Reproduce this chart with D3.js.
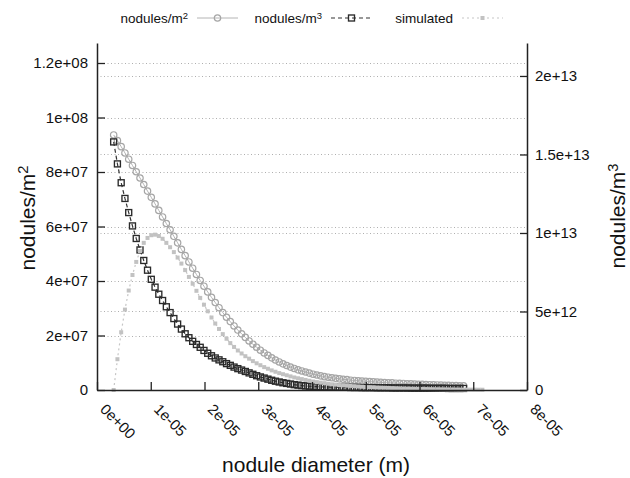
<!DOCTYPE html>
<html>
<head>
<meta charset="utf-8">
<script src="https://cdn.jsdelivr.net/npm/d3@7"></script>
<style>
    body { margin: 0; background: #fff; }
    svg { font-family: "Liberation Sans", Arial, Helvetica, sans-serif; }
</style>
</head>
<body>
<svg id="chart" width="630" height="478"></svg>
<script>
// ---- data ----
// nodule diameter, micrometres
const diameter_um= [
    3.1, 3.8, 4.5, 5.2, 5.9, 6.6, 7.3, 8.0, 8.7, 9.4,
    10.1, 10.8, 11.5, 12.2, 12.9, 13.6, 14.3, 15.0, 15.7, 16.4,
    17.1, 17.8, 18.5, 19.2, 19.9, 20.6, 21.3, 22.0, 22.7, 23.4,
    24.1, 24.8, 25.5, 26.2, 26.9, 27.6, 28.3, 29.0, 29.7, 30.4,
    31.1, 31.8, 32.5, 33.2, 33.9, 34.6, 35.3, 36.0, 36.7, 37.4,
    38.1, 38.8, 39.5, 40.2, 40.9, 41.6, 42.3, 43.0, 43.7, 44.4,
    45.1, 45.8, 46.5, 47.2, 47.9, 48.6, 49.3, 50.0, 50.7, 51.4,
    52.1, 52.8, 53.5, 54.2, 54.9, 55.6, 56.3, 57.0, 57.7, 58.4,
    59.1, 59.8, 60.5, 61.2, 61.9, 62.6, 63.3, 64.0, 64.7, 65.4,
    66.1, 66.8, 67.5, 68.2, 68.9, 69.6, 70.3, 71.0, 71.7
]

// nodules/m^2, units of 1e7 (left axis)
const per_area_e7= [
    9.36, 9.15, 8.93, 8.70, 8.47, 8.24, 8.01, 7.78, 7.54, 7.30,
    7.07, 6.83, 6.59, 6.35, 6.11, 5.88, 5.64, 5.40, 5.16, 4.93,
    4.70, 4.47, 4.24, 4.02, 3.81, 3.60, 3.40, 3.21, 3.02, 2.84,
    2.67, 2.51, 2.35, 2.20, 2.06, 1.93, 1.80, 1.68, 1.57, 1.46,
    1.36, 1.27, 1.18, 1.10, 1.03, 0.96, 0.90, 0.84, 0.79, 0.74,
    0.70, 0.66, 0.62, 0.58, 0.55, 0.52, 0.49, 0.47, 0.45, 0.43,
    0.41, 0.39, 0.38, 0.36, 0.35, 0.34, 0.33, 0.32, 0.31, 0.30,
    0.29, 0.28, 0.27, 0.265, 0.26, 0.25, 0.245, 0.24, 0.23, 0.225,
    0.22, 0.21, 0.205, 0.20, 0.195, 0.19, 0.185, 0.18, 0.175, 0.17,
    0.165, 0.16, 0.155, 0.15
]

// nodules/m^3, units of 1e12 (right axis)
const per_volume_e12= [
    15.8, 14.4, 13.2, 12.2, 11.3, 10.45, 9.65, 8.92, 8.25, 7.63,
    7.05, 6.55, 6.10, 5.70, 5.30, 4.93, 4.55, 4.20, 3.88, 3.58,
    3.33, 3.10, 2.90, 2.72, 2.52, 2.34, 2.18, 2.04, 1.92, 1.80,
    1.68, 1.57, 1.46, 1.36, 1.27, 1.18, 1.09, 1.00, 0.91, 0.83,
    0.76, 0.69, 0.62, 0.56, 0.51, 0.46, 0.42, 0.38, 0.34, 0.31,
    0.28, 0.26, 0.24, 0.22, 0.21, 0.20, 0.19, 0.19, 0.18, 0.18,
    0.17, 0.17, 0.17, 0.16, 0.16, 0.16, 0.15, 0.15, 0.15, 0.15,
    0.14, 0.14, 0.14, 0.14, 0.13, 0.13, 0.13, 0.13, 0.13, 0.12,
    0.12, 0.12, 0.12, 0.12, 0.11, 0.11, 0.11, 0.11, 0.11, 0.10,
    0.10, 0.10, 0.10, 0.10
]

// simulated, units of 1e7 (left axis)
const simulated_e7= [
    0, 1.13, 2.12, 2.95, 3.65, 4.22, 4.70, 5.10, 5.40, 5.58,
    5.68, 5.70, 5.65, 5.55, 5.40, 5.24, 5.06, 4.86, 4.64, 4.40,
    4.15, 3.90, 3.64, 3.38, 3.13, 2.89, 2.66, 2.44, 2.24, 2.05,
    1.88, 1.72, 1.58, 1.45, 1.34, 1.24, 1.15, 1.06, 0.98, 0.91,
    0.84, 0.78, 0.72, 0.67, 0.62, 0.58, 0.54, 0.50, 0.46, 0.43,
    0.40, 0.37, 0.34, 0.31, 0.29, 0.27, 0.25, 0.23, 0.21, 0.20,
    0.18, 0.17, 0.16, 0.15, 0.14, 0.13, 0.12, 0.11, 0.105, 0.10,
    0.09, 0.085, 0.08, 0.075, 0.07, 0.065, 0.06, 0.055, 0.05, 0.047,
    0.044, 0.041, 0.038, 0.035, 0.032, 0.03, 0.028, 0.026, 0.024, 0.022,
    0.02, 0.018, 0.016, 0.015, 0.014, 0.013, 0.012, 0.011, 0.01
]

// ticks
const x_ticks= [0, 1e-5, 2e-5, 3e-5, 4e-5, 5e-5, 6e-5, 7e-5, 8e-5]
const y_ticks= [0, 2e7, 4e7, 6e7, 8e7, 1e8, 1.2e8]
const y2_ticks= [0, 5e12, 1e13, 1.5e13, 2e13]

// ---- layout ----
const plot= {left: 97, right: 527, top: 43, bottom: 390}

const x= d3.scaleLinear().domain([0, 8e-5]).range([plot.left, plot.right])
const y= d3.scaleLinear().domain([0, 1.2734e8]).range([plot.bottom, plot.top])
const y2= d3.scaleLinear().domain([0, 2.21e13]).range([plot.bottom, plot.top])

// gnuplot-like number formats
function pad_exp(s) {
    let [m, e]= s.split("e")
    let sign= e[0] === "-" ? "-" : "+"
    e= e.replace(/^[+-]/, "")
    if(e.length < 2) e= "0" + e
    return `${m}e${sign}${e}`
}
const fmt_g= v => v === 0 ? "0" : pad_exp((+v.toPrecision(6)).toExponential())
const fmt_x= v => pad_exp(v.toExponential(0))

const svg= d3.select("#chart")

// ---- grid ----
const grid= svg.append("g")
    .attr("stroke", "#9a9a9a")
    .attr("stroke-width", 0.8)
    .attr("stroke-dasharray", "1,2.5")
grid.selectAll("line.gl").data(y_ticks.filter(v => v > 0)).join("line")
    .attr("x1", plot.left).attr("x2", plot.right)
    .attr("y1", d => Math.round(y(d)) + 0.5).attr("y2", d => Math.round(y(d)) + 0.5)
grid.selectAll("line.gr").data(y2_ticks.filter(v => v > 0)).join("line")
    .attr("class", "gr")
    .attr("x1", plot.left).attr("x2", plot.right)
    .attr("y1", d => Math.round(y2(d)) + 0.5).attr("y2", d => Math.round(y2(d)) + 0.5)

// ---- series ----
const as_points= (vals, unit) => vals.map((v, i) => ({d: diameter_um[i] * 1e-6, v: v * unit}))

const series= [
    {label: "nodules/m", sup: "2", scale: y, pts: as_points(per_area_e7, 1e7),
     line: {stroke: "#b4b4b4", width: 1, dash: null}, marker: "circle"},
    {label: "nodules/m", sup: "3", scale: y2, pts: as_points(per_volume_e12, 1e12),
     line: {stroke: "#333", width: 1.2, dash: "4,3"}, marker: "square"},
    {label: "simulated", sup: null, scale: y, pts: as_points(simulated_e7, 1e7),
     line: {stroke: "#c6c6c6", width: 1.2, dash: "2,3"}, marker: "dot"},
]

function draw_marker(sel, type) {
    if(type === "circle") {
        sel.append("circle").attr("r", 3.2)
            .attr("fill", "none").attr("stroke", "#a6a6a6").attr("stroke-width", 1.2)
    }
    if(type === "square") {
        sel.append("rect").attr("x", -3).attr("y", -3).attr("width", 6).attr("height", 6)
            .attr("fill", "none").attr("stroke", "#2a2a2a").attr("stroke-width", 1.35)
    }
    if(type === "dot") {
        sel.append("rect").attr("x", -2).attr("y", -2).attr("width", 4).attr("height", 4)
            .attr("fill", "#c2c2c2")
    }
}

series.forEach(s => {
    let g= svg.append("g")
    let line= d3.line().x(p => x(p.d)).y(p => s.scale(p.v))
    g.append("path")
        .attr("d", line(s.pts))
        .attr("fill", "none")
        .attr("stroke", s.line.stroke)
        .attr("stroke-width", s.line.width)
        .attr("stroke-dasharray", s.line.dash)
    g.selectAll("g.pt").data(s.pts).join("g")
        .attr("transform", p => `translate(${x(p.d)},${s.scale(p.v)})`)
        .each(function() { draw_marker(d3.select(this), s.marker) })
})

// ---- axes ----
function style_axis(g) {
    g.select(".domain").attr("stroke", "#222").attr("stroke-width", 1.5)
    g.selectAll(".tick line").attr("stroke", "#222").attr("stroke-width", 1.3)
    g.selectAll(".tick text").attr("fill", "#111").attr("font-size", 15)
    g.attr("font-family", null)
}

svg.append("g")
    .attr("transform", `translate(${plot.left},0)`)
    .call(d3.axisLeft(y).tickValues(y_ticks).tickFormat(fmt_g).tickSize(-8).tickSizeOuter(0).tickPadding(9))
    .call(style_axis)

svg.append("g")
    .attr("transform", `translate(${plot.right},0)`)
    .call(d3.axisRight(y2).tickValues(y2_ticks).tickFormat(fmt_g).tickSize(-7).tickSizeOuter(0).tickPadding(8))
    .call(style_axis)

const xg= svg.append("g")
    .attr("transform", `translate(0,${plot.bottom})`)
    .call(d3.axisBottom(x).tickValues(x_ticks).tickFormat(fmt_x).tickSize(-8).tickSizeOuter(0))
    .call(style_axis)
xg.selectAll(".tick text")
    .attr("x", 0).attr("y", 0).attr("dy", "0.3em")
    .attr("text-anchor", "start")
    .attr("transform", "translate(5,17) rotate(45)")

// ---- axis titles ----
function title_text(sel, label, sup) {
    sel.append("tspan").text(label)
    if(sup) sel.append("tspan").attr("dy", "-0.45em").attr("font-size", "70%").text(sup)
}

svg.append("text")
    .attr("transform", "translate(35,218) rotate(-90)")
    .attr("text-anchor", "middle").attr("font-size", 21).attr("fill", "#111")
    .call(title_text, "nodules/m", "2")

svg.append("text")
    .attr("transform", "translate(625,216) rotate(-90)")
    .attr("text-anchor", "middle").attr("font-size", 21).attr("fill", "#111")
    .call(title_text, "nodules/m", "3")

svg.append("text")
    .attr("x", 316).attr("y", 472)
    .attr("text-anchor", "middle").attr("font-size", 21).attr("fill", "#111")
    .text("nodule diameter (m)")

// ---- legend ----
const legend_end= [188, 322, 453]  // right edge of each entry's text
const legend= svg.append("g")
series.forEach((s, i) => {
    let xe= legend_end[i]
    let t= legend.append("text")
        .attr("x", xe).attr("y", 23)
        .attr("text-anchor", "end").attr("font-size", 13.5).attr("fill", "#111")
    title_text(t, s.label, s.sup)

    legend.append("line")
        .attr("x1", xe + 9).attr("x2", xe + 50)
        .attr("y1", 18).attr("y2", 18)
        .attr("stroke", s.line.stroke)
        .attr("stroke-width", s.line.width)
        .attr("stroke-dasharray", s.line.dash)
    legend.append("g")
        .attr("transform", `translate(${xe + 29.5},18)`)
        .call(draw_marker, s.marker)
})
</script>
</body>
</html>
